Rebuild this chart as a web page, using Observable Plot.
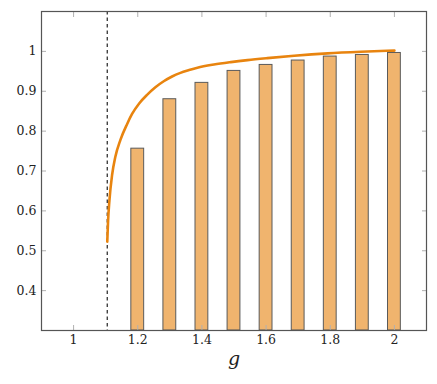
<!DOCTYPE html>
<html>
<head>
<meta charset="utf-8">
<script src="https://cdn.jsdelivr.net/npm/d3@7"></script>
<script src="https://cdn.jsdelivr.net/npm/@observablehq/plot@0.6"></script>
<style>
  html, body { margin: 0; padding: 0; background: #fff; }
  svg { display: block; }
</style>
</head>
<body>
<div id="chart"></div>
<script>
// Bars
const barG = [1.2, 1.3, 1.4, 1.5, 1.6, 1.7, 1.8, 1.9, 2.0];
const barValue = [0.756, 0.880, 0.921, 0.951, 0.966, 0.977, 0.987, 0.991, 0.996];
// Curve
const curveG = [1.105, 1.1075, 1.1116, 1.12, 1.13, 1.146, 1.167, 1.1823, 1.205, 1.229, 1.255, 1.281, 1.307, 1.333, 1.36, 1.386, 1.4375, 1.49, 1.542, 1.604, 1.6875, 1.792, 1.896, 2.0];
const curveValue = [0.523, 0.575, 0.625, 0.69, 0.735, 0.778, 0.818, 0.843, 0.87, 0.891, 0.91, 0.925, 0.937, 0.946, 0.953, 0.959, 0.967, 0.973, 0.978, 0.983, 0.989, 0.995, 0.999, 1.002];
// Dashed threshold
const thresholdG = [1.105];
// Ticks
const xTicks = [1, 1.2, 1.4, 1.6, 1.8, 2];
const yTicks = [0.4, 0.5, 0.6, 0.7, 0.8, 0.9, 1];
const xDomain = [0.9, 2.1];
const yDomain = [0.3, 1.1];
const xLabel = "g";
const barHalfWidth = 0.02;

const bars = barG.map((g, i) => ({g, v: barValue[i]}));
const curve = curveG.map((g, i) => ({g, v: curveValue[i]}));

const tickColor = "#b0b0b0";
const serif = "'DejaVu Serif', serif";

const chart = Plot.plot({
  width: 437,
  height: 384,
  marginLeft: 41,
  marginRight: 11,
  marginTop: 11,
  marginBottom: 54,
  style: {fontFamily: serif, fontSize: "12px", color: "#222", background: "#fff"},
  x: {domain: xDomain},
  y: {domain: yDomain},
  marks: [
    Plot.rectY(bars, {x1: d => d.g - barHalfWidth, x2: d => d.g + barHalfWidth, y1: yDomain[0], y2: "v", fill: "#f0b46e", stroke: "#5a5a5a", strokeWidth: 1}),
    Plot.ruleX(thresholdG, {stroke: "#333", strokeWidth: 1.3, strokeDasharray: "3.5,3"}),
    Plot.line(curve, {x: "g", y: "v", stroke: "#e8840f", strokeWidth: 2.6, curve: "monotone-x"}),
    // inward ticks on all four sides
    Plot.axisX(xTicks, {anchor: "bottom", tickSize: -5, text: null, stroke: tickColor, label: null}),
    Plot.axisX(xTicks, {anchor: "top", tickSize: -5, text: null, stroke: tickColor, label: null}),
    Plot.axisY(yTicks, {anchor: "left", tickSize: -5, text: null, stroke: tickColor, label: null}),
    Plot.axisY(yTicks, {anchor: "right", tickSize: -5, text: null, stroke: tickColor, label: null}),
    // tick labels
    Plot.axisX(xTicks, {anchor: "bottom", tickSize: 0, tickPadding: 5, label: null, fontSize: 12.5, fontFamily: serif, tickFormat: d3.format("")}),
    Plot.axisY(yTicks, {anchor: "left", tickSize: 0, tickPadding: 5, label: null, fontSize: 12.5, fontFamily: serif, tickFormat: d3.format("")}),
    Plot.text([xLabel], {frameAnchor: "bottom", dy: 34, fontStyle: "italic", fontSize: 19, fontFamily: serif, fill: "#222"}),
    Plot.frame({stroke: "#555", strokeWidth: 1.2})
  ]
});
document.getElementById("chart").appendChild(chart);
</script>
</body>
</html>
